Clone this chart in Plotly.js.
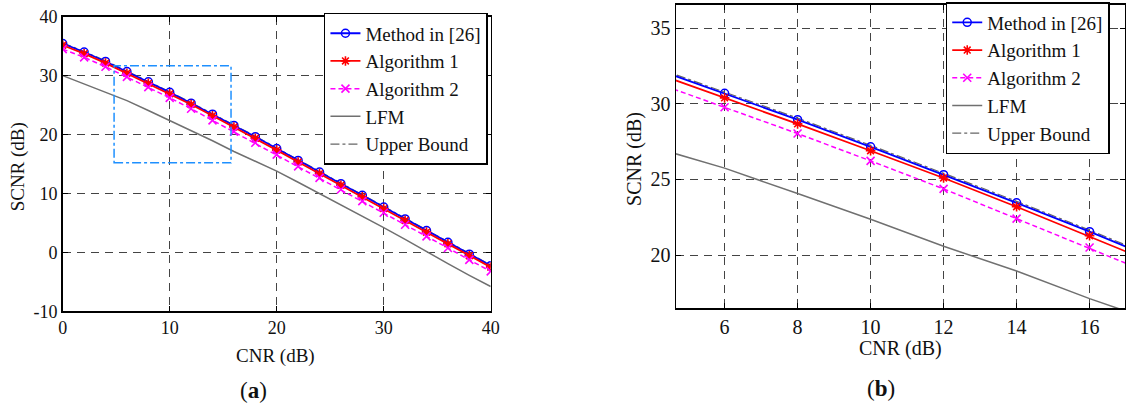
<!DOCTYPE html>
<html>
<head>
<meta charset="utf-8">
<script src="https://cdn.plot.ly/plotly-3.0.1.min.js"></script>
<style>html,body{margin:0;padding:0;background:#fff;}#chart{width:1126px;height:403px;}</style>
</head>
<body>
<div id="chart"></div>
<script>
// ---- data ----
var cnr = [0, 2, 4, 6, 8, 10, 12, 14, 16, 18, 20, 22, 24, 26, 28, 30, 32, 34, 36, 38, 40];
var methodRef26 = [35.45, 34.0, 32.4, 30.7, 28.96, 27.16, 25.32, 23.46, 21.55, 19.63, 17.62, 15.6, 13.64, 11.66, 9.69, 7.7, 5.68, 3.7, 1.72, -0.3, -2.25];
var algorithm1 = [35.15, 33.72, 32.12, 30.4, 28.68, 26.9, 25.1, 23.2, 21.28, 19.36, 17.35, 15.33, 13.37, 11.39, 9.42, 7.43, 5.41, 3.43, 1.45, -0.57, -2.5];
var algorithm2 = [34.5, 33.1, 31.5, 29.78, 28.04, 26.23, 24.38, 22.41, 20.5, 18.6, 16.6, 14.6, 12.65, 10.67, 8.7, 6.72, 4.7, 2.72, 0.75, -1.27, -3.22];
var lfm = [30.0, 28.6, 27.2, 25.75, 24.07, 22.37, 20.58, 18.95, 17.12, 15.5, 13.8, 11.9, 10.0, 8.05, 6.1, 4.2, 2.2, 0.1, -1.9, -3.9, -5.8];
var upperBound = [35.55, 34.1, 32.5, 30.8, 29.06, 27.26, 25.42, 23.56, 21.65, 19.73, 17.72, 15.7, 13.74, 11.76, 9.79, 7.8, 5.78, 3.8, 1.82, -0.2, -2.15];
var seriesNames = ["Method in [26]", "Algorithm 1", "Algorithm 2", "LFM", "Upper Bound"];
var xTicksA = [0, 10, 20, 30, 40];
var yTicksA = [-10, 0, 10, 20, 30, 40];
var yTickTextA = ["-10", "0", "10", "20", "30", "40"];
var xTicksB = [6, 8, 10, 12, 14, 16];
var yTicksB = [20, 25, 30, 35];
var zoomBoxX = [4.8, 15.73];
var zoomBoxY = [15.22, 31.68];

var FONT = "Liberation Serif";

function makeTraces(xa, ya, leg) {
  return [
    {x: cnr, y: upperBound, name: seriesNames[4], xaxis: xa, yaxis: ya, legend: leg, legendrank: 5,
     mode: "lines", line: {color: "#666666", width: 1.2, dash: "dashdot"}},
    {x: cnr, y: methodRef26, name: seriesNames[0], xaxis: xa, yaxis: ya, legend: leg, legendrank: 1,
     mode: "lines+markers", line: {color: "#0000ff", width: 1.8},
     marker: {symbol: "circle-open", size: 8, color: "#0000ff", line: {width: 1.5, color: "#0000ff"}}},
    {x: cnr, y: algorithm1, name: seriesNames[1], xaxis: xa, yaxis: ya, legend: leg, legendrank: 2,
     mode: "lines+markers", line: {color: "#ff0000", width: 1.8},
     marker: {symbol: "asterisk-open", size: 8, color: "#ff0000", line: {width: 1.6, color: "#ff0000"}}},
    {x: cnr, y: algorithm2, name: seriesNames[2], xaxis: xa, yaxis: ya, legend: leg, legendrank: 3,
     mode: "lines+markers", line: {color: "#ff00ff", width: 1.5, dash: "5px,3px"},
     marker: {symbol: "x-thin-open", size: 8, color: "#ff00ff", line: {width: 1.6, color: "#ff00ff"}}},
    {x: cnr, y: lfm, name: seriesNames[3], xaxis: xa, yaxis: ya, legend: leg, legendrank: 4,
     mode: "lines", line: {color: "#707070", width: 1.5}}
  ];
}

var data = makeTraces("x", "y", "legend").concat(makeTraces("x2", "y2", "legend2"));

function axisBase(extra) {
  var a = {
    showline: true, mirror: "all", linecolor: "#000", linewidth: 1.5,
    ticks: "inside", ticklen: 5, tickcolor: "#000", tickwidth: 1,
    showgrid: true, gridcolor: "#444", gridwidth: 1, griddash: "8px,6px",
    zeroline: false, fixedrange: true,
    tickfont: {family: FONT, size: 18, color: "#111"}
  };
  for (var k in extra) a[k] = extra[k];
  return a;
}

function legendAt(x, y) {
  return {
    x: x, y: y, xanchor: "left", yanchor: "top", bgcolor: "#fff", bordercolor: "#000", borderwidth: 1.5,
    font: {family: FONT, size: 19, color: "#111"}, tracegroupgap: 0, itemwidth: 30
  };
}

var layout = {
  width: 1126, height: 403,
  margin: {l: 0, r: 0, t: 0, b: 0},
  font: {family: FONT, size: 17, color: "#111"},
  paper_bgcolor: "#fff", plot_bgcolor: "#fff",
  showlegend: true,
  xaxis: axisBase({domain: [0.0557, 0.4358], range: [0, 40], tickvals: xTicksA, anchor: "y"}),
  yaxis: axisBase({domain: [0.2275, 0.9586], range: [-10, 40], tickvals: yTicksA, ticktext: yTickTextA, anchor: "x"}),
  xaxis2: axisBase({domain: [0.6004, 0.9991], range: [4.67, 16.97], tickvals: xTicksB, anchor: "y2",
    tickfont: {family: FONT, size: 20, color: "#111"}}),
  yaxis2: axisBase({domain: [0.2357, 0.9883], range: [16.5, 36.56], tickvals: yTicksB, anchor: "x2",
    tickfont: {family: FONT, size: 20, color: "#111"}}),
  legend: legendAt(0.2877, 0.968),
  legend2: legendAt(0.8399, 0.995),
  shapes: [{type: "rect", xref: "x", yref: "y", x0: zoomBoxX[0], x1: zoomBoxX[1], y0: zoomBoxY[0], y1: zoomBoxY[1],
    line: {color: "#1E90FF", width: 1.5, dash: "dashdot"}, fillcolor: "rgba(0,0,0,0)"}],
  annotations: [
    {text: "SCNR (dB)", xref: "paper", yref: "paper", x: 0.0163, y: 0.5856, textangle: -90, showarrow: false,
     xanchor: "center", yanchor: "middle", font: {family: FONT, size: 19, color: "#111"}},
    {text: "CNR (dB)", xref: "paper", yref: "paper", x: 0.2451, y: 0.1166, showarrow: false,
     xanchor: "center", yanchor: "middle", font: {family: FONT, size: 19, color: "#111"}},
    {text: "SCNR (dB)", xref: "paper", yref: "paper", x: 0.5639, y: 0.6055, textangle: -90, showarrow: false,
     xanchor: "center", yanchor: "middle", font: {family: FONT, size: 20, color: "#111"}},
    {text: "CNR (dB)", xref: "paper", yref: "paper", x: 0.7993, y: 0.1340, showarrow: false,
     xanchor: "center", yanchor: "middle", font: {family: FONT, size: 20, color: "#111"}},
    {text: "(<b>a</b>)", xref: "paper", yref: "paper", x: 0.2247, y: 0.0298, showarrow: false,
     xanchor: "center", yanchor: "middle", font: {family: FONT, size: 23, color: "#111"}},
    {text: "(<b>b</b>)", xref: "paper", yref: "paper", x: 0.7824, y: 0.0372, showarrow: false,
     xanchor: "center", yanchor: "middle", font: {family: FONT, size: 23, color: "#111"}}
  ]
};

Plotly.newPlot("chart", data, layout, {displayModeBar: false, staticPlot: true});
</script>
</body>
</html>
